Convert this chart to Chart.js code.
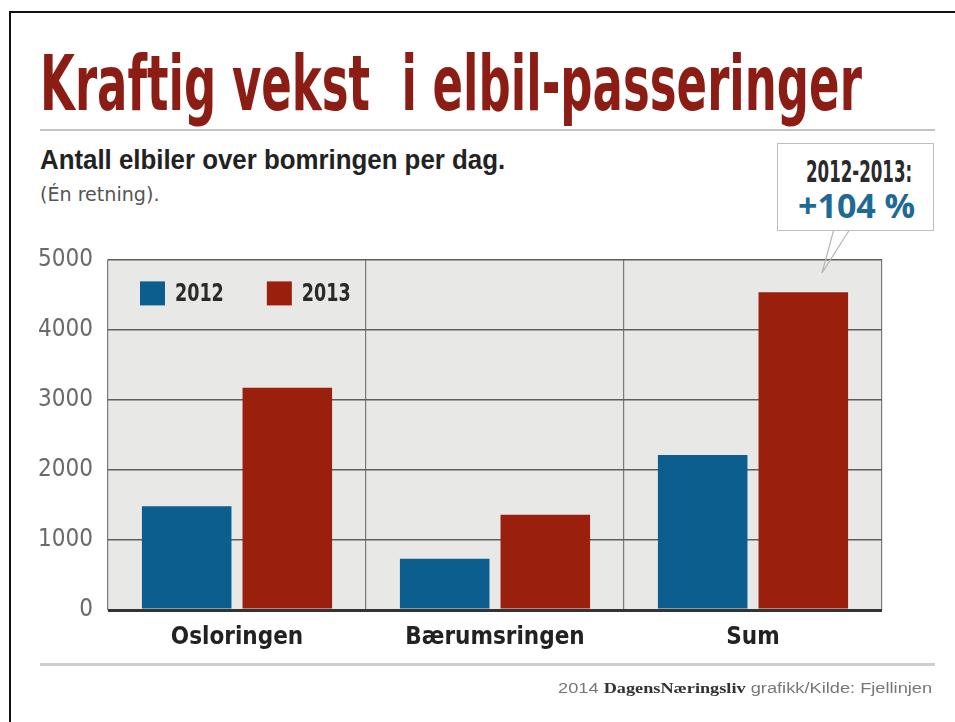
<!DOCTYPE html>
<html>
<head>
<meta charset="utf-8">
<script src="https://cdn.jsdelivr.net/npm/chart.js@4.4.1/dist/chart.umd.min.js"></script>
<style>
  html, body { margin: 0; padding: 0; background: #fff; }
  #page { position: relative; width: 955px; height: 722px; overflow: hidden; }
  #frame { position: absolute; left: 9px; top: 11px; width: 1000px; height: 800px;
           border-left: 2px solid #111; border-top: 2px solid #111; }
  .txt { position: absolute; white-space: pre; line-height: 1; transform-origin: left top; }
  .narrow { font-family: 'Liberation Sans Narrow', 'DejaVu Sans Condensed', 'Roboto Condensed', 'Liberation Sans', sans-serif; }
  #title { left: 40px; top: 46px; font-size: 76px; font-weight: bold; color: #8c1d14; }
  #sub { left: 40px; top: 147px; font-size: 27px; font-weight: bold; color: #222; font-family: 'Liberation Sans', Arial, sans-serif; }
  #note { left: 40px; top: 184px; font-size: 20px; color: #555; }
  .rule { position: absolute; left: 40px; width: 895px; background: #c4c4c4; }
  #box { position: absolute; left: 777px; top: 143px; width: 155px; height: 86px;
         border: 1px solid #bdbdbd; background: #fff; }
  #boxA { top: 157px; font-size: 30px; font-weight: bold; color: #2a2a2a; }
  #boxB { top: 188px; font-size: 34px; font-weight: bold; color: #1d6b94; font-family: 'Open Sans', Roboto, sans-serif; }
  #foot { top: 681px; font-size: 14px; color: #777; font-family: 'Liberation Sans Narrow', 'Liberation Sans', sans-serif; }
  #foot b { font-family: 'Liberation Serif', serif; color: #333; }
  #wrap { position: absolute; left: 0; top: 230px; width: 955px; height: 440px; }
  #tail { position: absolute; left: 0; top: 0; }
</style>
</head>
<body>
<div id="page">
  <div id="frame"></div>
  <div id="title" class="txt narrow">Kraftig vekst  i elbil-passeringer</div>
  <div class="rule" style="top:129px;height:2px"></div>
  <div id="sub" class="txt">Antall elbiler over bomringen per dag.</div>
  <div id="note" class="txt narrow">(Én retning).</div>
  <div id="wrap"><canvas id="chart"></canvas></div>
  <svg id="tail" width="955" height="722">
    <polyline points="834,229 822,273 850,229" fill="none" stroke="#b5b5b5" stroke-width="1.2"/>
  </svg>
  <div id="box"></div>
  <div id="boxA" class="txt narrow">2012-2013:</div>
  <div id="boxB" class="txt">+104 %</div>
  <div class="rule" style="top:663px;height:3px;background:#cfcfcf"></div>
  <div id="foot" class="txt">2014 <b>DagensNæringsliv</b> grafikk/Kilde: Fjellinjen</div>
</div>
<script>
// --- data ---
const categories = ["Osloringen", "Bærumsringen", "Sum"];
const seriesNames = ["2012", "2013"];
const values2012 = [1480, 730, 2210];
const values2013 = [3170, 1360, 4530];
const yTicks = [0, 1000, 2000, 3000, 4000, 5000];

const NARROW = "'Liberation Sans Narrow', 'DejaVu Sans Condensed', 'Roboto Condensed', 'Liberation Sans', sans-serif";

// squeeze html text into the width it has in the picture
const fit = (id, left, right) => {
    const el = document.getElementById(id);
    const s = (right - left) / el.scrollWidth;
    el.style.left = left + "px";
    el.style.transform = `scaleX(${s})`;
};
fit("title", 40, 862);
fit("sub", 40, 505);
fit("note", 40, 160);
fit("boxA", 806, 912);
fit("boxB", 798, 915);
fit("foot", 558, 932);

// plot background
const plotBg = {
    id: "plotBg",
    beforeDraw(chart) {
        const { ctx, chartArea: a } = chart;
        ctx.save();
        ctx.fillStyle = "#e8e8e6";
        ctx.fillRect(a.left, a.top, a.right - a.left, a.bottom - a.top);
        ctx.restore();
    }
};

// one-row legend sitting inside the plot, top left
const innerLegend = {
    id: "innerLegend",
    afterDatasetsDraw(chart) {
        const { ctx, chartArea: a } = chart;
        const squeeze = 0.78;
        let x = a.left + 32;
        const y = a.top + 34;
        ctx.save();
        ctx.font = `bold 25px ${NARROW}`;
        ctx.textBaseline = "middle";
        chart.data.datasets.forEach(ds => {
            ctx.fillStyle = ds.backgroundColor;
            ctx.fillRect(x, y - 12, 25, 24);
            x += 25 + 10;
            ctx.save();
            ctx.translate(x, y + 1);
            ctx.scale(squeeze, 1);
            ctx.fillStyle = "#2a2a2a";
            ctx.fillText(ds.label, 0, 0);
            ctx.restore();
            x += ctx.measureText(ds.label).width * squeeze + 43;
        });
        ctx.restore();
    }
};

new Chart(document.getElementById("chart"), {
    type: "bar",
    data: {
        labels: categories,
        datasets: [
            { label: seriesNames[0], data: values2012, backgroundColor: "#0b5e8e",
              barPercentage: 0.89, categoryPercentage: 0.78 },
            { label: seriesNames[1], data: values2013, backgroundColor: "#9a1f0c",
              barPercentage: 0.89, categoryPercentage: 0.78 }
        ]
    },
    options: {
        responsive: true,
        maintainAspectRatio: false,
        animation: false,
        layout: { padding: { top: 26, right: 73, left: 0, bottom: 0 } },
        plugins: {
            tooltip: { enabled: false },
            legend: { display: false }
        },
        scales: {
            x: {
                afterFit: s => { s.height = 60; },
                grid: { offset: true, color: "#7a7a7a", lineWidth: 1.2, drawTicks: false },
                border: { display: false },
                ticks: { color: "#222", padding: 13, font: { family: NARROW, size: 24, weight: "bold" } }
            },
            y: {
                min: 0, max: 5000,
                afterFit: s => { s.width = 108; },
                afterBuildTicks: s => { s.ticks = yTicks.map(v => ({ value: v })); },
                grid: {
                    drawTicks: false,
                    color: c => c.tick && c.tick.value === 0 ? "#333" : "#5e5e5e",
                    lineWidth: c => c.tick && c.tick.value === 0 ? 3 : 1.6
                },
                border: { display: false },
                ticks: { color: "#6a6a6a", padding: 15, font: { family: NARROW, size: 24 },
                         callback: v => String(v) }
            }
        }
    },
    plugins: [plotBg, innerLegend]
});
</script>
</body>
</html>
